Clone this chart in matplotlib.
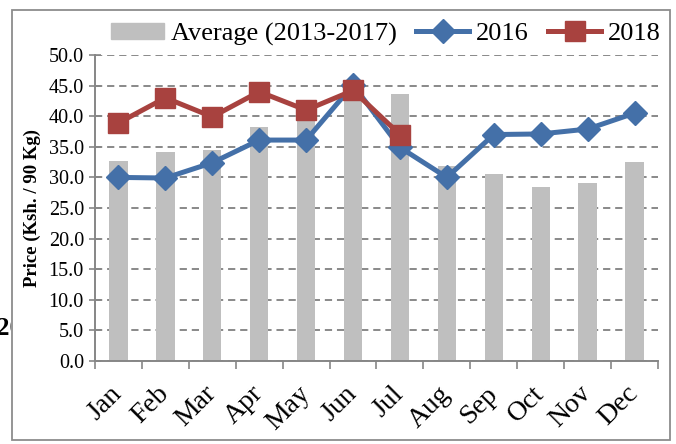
import matplotlib
matplotlib.use("Agg")
import matplotlib.pyplot as plt
import matplotlib.patches as mpatches
from matplotlib.lines import Line2D
from matplotlib.transforms import Bbox
import numpy as np

# ── Data ─────────────────────────────────────────────────────────────────────
months = ["Jan", "Feb", "Mar", "Apr", "May", "Jun",
          "Jul", "Aug", "Sep", "Oct", "Nov", "Dec"]
avg_2013_2017 = [32.6, 34.1, 34.5, 38.2, 39.6, 44.5, 43.7, 31.8, 30.5, 28.5, 29.1, 32.5]
price_2016 = [30.0, 29.9, 32.4, 36.1, 36.1, 45.1, 34.9, 30.0, 37.0, 37.1, 37.9, 40.5]
price_2018 = [38.9, 43.0, 39.9, 44.0, 41.0, 44.2, 37.0]
y_ticks = [0, 5, 10, 15, 20, 25, 30, 35, 40, 45, 50]

# ── Style ────────────────────────────────────────────────────────────────────
BAR_GRAY = "#BFBFBF"
BLUE = "#4470A8"
RED = "#A8423F"
AXIS_GRAY = "#868686"
GRID_GRAY = "#808080"

plt.rcParams["font.family"] = ["Liberation Serif", "DejaVu Serif"]

W, H = 676, 444
fig = plt.figure(figsize=(W / 100, H / 100), dpi=100)


def px(x0, y0, x1, y1):
    """pixel box (top-left origin) -> figure fraction rect"""
    return [x0 / W, 1 - y1 / H, (x1 - x0) / W, (y1 - y0) / H]


ax = fig.add_axes(px(95, 55, 658, 361))
x = np.arange(len(months))

ax.bar(x, avg_2013_2017, width=0.39, color=BAR_GRAY, zorder=2)
ax.plot(x, price_2016, color=BLUE, lw=3.6, marker="D", ms=12,
        mec=BLUE, zorder=3)
ax.plot(x[:len(price_2018)], price_2018, color=RED, lw=3.6, marker="s",
        ms=14, mec=RED, zorder=4)

ax.set_xlim(-0.5, len(months) - 0.5)
ax.set_ylim(0, 50)
ax.set_yticks(y_ticks)
ax.set_yticklabels([f"{v:.1f}" for v in y_ticks], fontsize=14.5)
ax.yaxis.grid(True, ls=(0, (4, 2.7)), color=GRID_GRAY, lw=1.3, zorder=1)
ax.set_axisbelow(True)

ax.set_xticks(x)
ax.set_xticklabels(months, fontsize=20, rotation=45, ha="right",
                   va="center", rotation_mode="anchor")
ax.set_xticks(np.arange(-0.5, len(months)), minor=True)
ax.tick_params(axis="x", which="major", length=0, pad=21)
ax.tick_params(axis="x", which="minor", length=6, width=1.2,
               color=AXIS_GRAY, direction="out")
ax.tick_params(axis="y", length=8, width=1.2, color=AXIS_GRAY,
               direction="inout", pad=4)

for side in ("top", "right"):
    ax.spines[side].set_visible(False)
for side in ("left", "bottom"):
    ax.spines[side].set_color(AXIS_GRAY)
    ax.spines[side].set_linewidth(1.4)

ax.set_ylabel("Price (Ksh. / 90 Kg)", fontsize=13.5, fontweight="bold")
ax.yaxis.set_label_coords(-54 / 563, 0.5)

# ── Legend ───────────────────────────────────────────────────────────────────
handles = [
    mpatches.Patch(color=BAR_GRAY, label="Average (2013-2017)"),
    Line2D([], [], color=BLUE, lw=3.6, marker="D", ms=12, mec=BLUE, label="2016"),
    Line2D([], [], color=RED, lw=3.6, marker="s", ms=14, mec=RED, label="2018"),
]
fig.legend(handles=handles, loc="center", bbox_to_anchor=(386 / W, 1 - 34 / H),
           ncol=3, frameon=False, fontsize=19, handlelength=2.0,
           handleheight=0.55, handletextpad=0.25, columnspacing=0.75,
           borderaxespad=0, borderpad=0)

# ── Outer border ─────────────────────────────────────────────────────────────
bx = px(12, 10, 670, 440)
fig.patches.append(mpatches.Rectangle(
    (bx[0], bx[1]), bx[2], bx[3],
    transform=fig.transFigure, fill=False, ec="#8C8C8C", lw=1.3))

# clipped stray text at the left edge
t = fig.text(-3 / W, 1 - 328 / H, "20", fontsize=18, fontweight="bold",
             va="center", ha="left")
t.set_clip_box(Bbox([[0, 0], [11, H]]))
t.set_clip_on(True)

fig.savefig("out.png", dpi=100)
